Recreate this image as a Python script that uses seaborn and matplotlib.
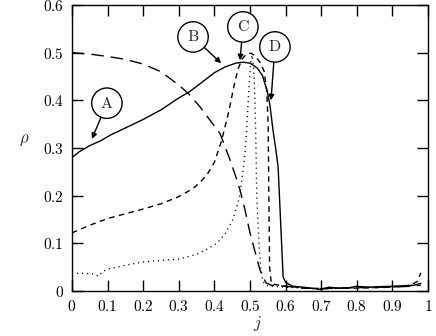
import matplotlib
matplotlib.use("Agg")
import matplotlib.pyplot as plt
import seaborn as sns
import pandas as pd
from matplotlib.ticker import FuncFormatter

# curve A (solid)
j_a = [0, 0.02, 0.05, 0.08, 0.11, 0.15, 0.2, 0.25, 0.3, 0.33, 0.36, 0.4, 0.43, 0.46, 0.48,
       0.5, 0.52, 0.535, 0.548, 0.556, 0.565, 0.572, 0.579, 0.586, 0.593, 0.6, 0.62, 0.65,
       0.68, 0.7, 0.72, 0.75, 0.78, 0.8, 0.83, 0.86, 0.9, 0.93, 0.96, 0.98]
rho_a = [0.28, 0.292, 0.305, 0.315, 0.328, 0.342, 0.36, 0.38, 0.405, 0.418, 0.435, 0.458, 0.47,
         0.478, 0.48, 0.478, 0.468, 0.452, 0.42, 0.39, 0.335, 0.3, 0.26, 0.145, 0.03, 0.018,
         0.01, 0.008, 0.005, 0.003, 0.008, 0.006, 0.007, 0.01, 0.008, 0.009, 0.01, 0.011,
         0.012, 0.016]

# curve B (long dashes)
j_b = [0, 0.05, 0.1, 0.15, 0.2, 0.25, 0.3, 0.33, 0.36, 0.39, 0.416, 0.444, 0.46, 0.472, 0.486,
       0.5, 0.515, 0.528, 0.545, 0.56, 0.6, 0.65, 0.7, 0.75, 0.8, 0.85, 0.9, 0.95, 0.98]
rho_b = [0.5, 0.497, 0.492, 0.486, 0.476, 0.46, 0.432, 0.412, 0.386, 0.356, 0.33, 0.275, 0.24,
         0.212, 0.17, 0.122, 0.08, 0.044, 0.017, 0.012, 0.01, 0.006, 0.005, 0.006, 0.007,
         0.008, 0.008, 0.01, 0.012]

# curve C (medium dashes)
j_c = [0, 0.05, 0.1, 0.15, 0.2, 0.25, 0.3, 0.34, 0.36, 0.38, 0.4, 0.42, 0.44, 0.455, 0.466,
       0.478, 0.49, 0.503, 0.515, 0.53, 0.54, 0.547, 0.551, 0.553, 0.555, 0.56, 0.6, 0.65,
       0.7, 0.75, 0.8, 0.85, 0.9, 0.95, 0.97, 0.98]
rho_c = [0.122, 0.138, 0.152, 0.162, 0.172, 0.183, 0.198, 0.215, 0.228, 0.245, 0.27, 0.315,
         0.375, 0.43, 0.465, 0.487, 0.497, 0.499, 0.493, 0.478, 0.46, 0.42, 0.35, 0.2, 0.05,
         0.015, 0.01, 0.007, 0.005, 0.006, 0.006, 0.007, 0.008, 0.012, 0.02, 0.038]

# curve D (dotted)
j_d = [0, 0.03, 0.06, 0.075, 0.085, 0.1, 0.15, 0.2, 0.25, 0.3, 0.35, 0.38, 0.407, 0.43, 0.452,
       0.47, 0.48, 0.486, 0.49, 0.494, 0.498, 0.502, 0.506, 0.51, 0.513, 0.515, 0.517, 0.519,
       0.522, 0.526, 0.53, 0.536, 0.545, 0.56, 0.6, 0.65, 0.7, 0.75, 0.8, 0.85, 0.9, 0.95, 0.98]
rho_d = [0.037, 0.037, 0.036, 0.031, 0.04, 0.046, 0.054, 0.061, 0.064, 0.067, 0.077, 0.088,
         0.1, 0.12, 0.15, 0.195, 0.25, 0.29, 0.33, 0.386, 0.44, 0.48, 0.495, 0.47, 0.42, 0.37,
         0.29, 0.2, 0.15, 0.09, 0.05, 0.02, 0.012, 0.01, 0.008, 0.006, 0.004, 0.006, 0.007,
         0.007, 0.009, 0.011, 0.013]

labels = ["A", "B", "C", "D"]
label_pos = [(0.098, 0.394), (0.34, 0.533), (0.48, 0.554), (0.57, 0.512)]
arrow_tips = [(0.056, 0.319), (0.419, 0.478), (0.472, 0.484), (0.559, 0.40)]

x_ticks = [0, 0.1, 0.2, 0.3, 0.4, 0.5, 0.6, 0.7, 0.8, 0.9, 1]
y_ticks = [0, 0.1, 0.2, 0.3, 0.4, 0.5, 0.6]

sns.set_style("ticks")
plt.rcParams["font.family"] = ["DejaVu Serif"]
plt.rcParams["mathtext.fontset"] = "cm"

fig = plt.figure(figsize=(4.36, 3.36), dpi=100)
ax = fig.add_axes([72 / 436, 45 / 336, 356 / 436, 286 / 336])

styles = [
    (j_a, rho_a, None),
    (j_b, rho_b, (9, 5)),
    (j_c, rho_c, (4, 3.2)),
    (j_d, rho_d, (0.8, 2.8)),
]
for xs, ys, dash in styles:
    df = pd.DataFrame({"j": xs, "rho": ys})
    line = sns.lineplot(data=df, x="j", y="rho", ax=ax, color="black", lw=1,
                        sort=False, estimator=None).lines[-1]
    if dash is not None:
        line.set_dashes(dash)

for lab, pos, tip in zip(labels, label_pos, arrow_tips):
    ax.annotate(f"$\\mathrm{{{lab}}}$", xy=tip, xytext=pos, ha="center", va="center",
                fontsize=11.5,
                bbox=dict(boxstyle="circle,pad=0.42", fc="white", ec="black", lw=1),
                arrowprops=dict(arrowstyle="-|>", color="black", lw=1, shrinkA=0,
                                shrinkB=0, mutation_scale=8))

fmt = FuncFormatter(lambda v, p: f"${v:g}$")
ax.set_xlim(0, 1)
ax.set_ylim(0, 0.6)
ax.set_xticks(x_ticks)
ax.set_yticks(y_ticks)
ax.xaxis.set_major_formatter(fmt)
ax.yaxis.set_major_formatter(fmt)
ax.tick_params(axis="both", which="both", direction="in", length=8, width=1,
               top=True, right=True, labelsize=11, colors="black", pad=6)
for sp in ax.spines.values():
    sp.set_linewidth(1)
    sp.set_color("black")

ax.set_xlabel("$j$", fontsize=12)
ax.set_ylabel(r"$\rho$", fontsize=12, rotation=0)
ax.xaxis.set_label_coords(0.52, -0.08)
ax.yaxis.set_label_coords(-0.135, 0.5)

fig.savefig("out.png", dpi=100)
